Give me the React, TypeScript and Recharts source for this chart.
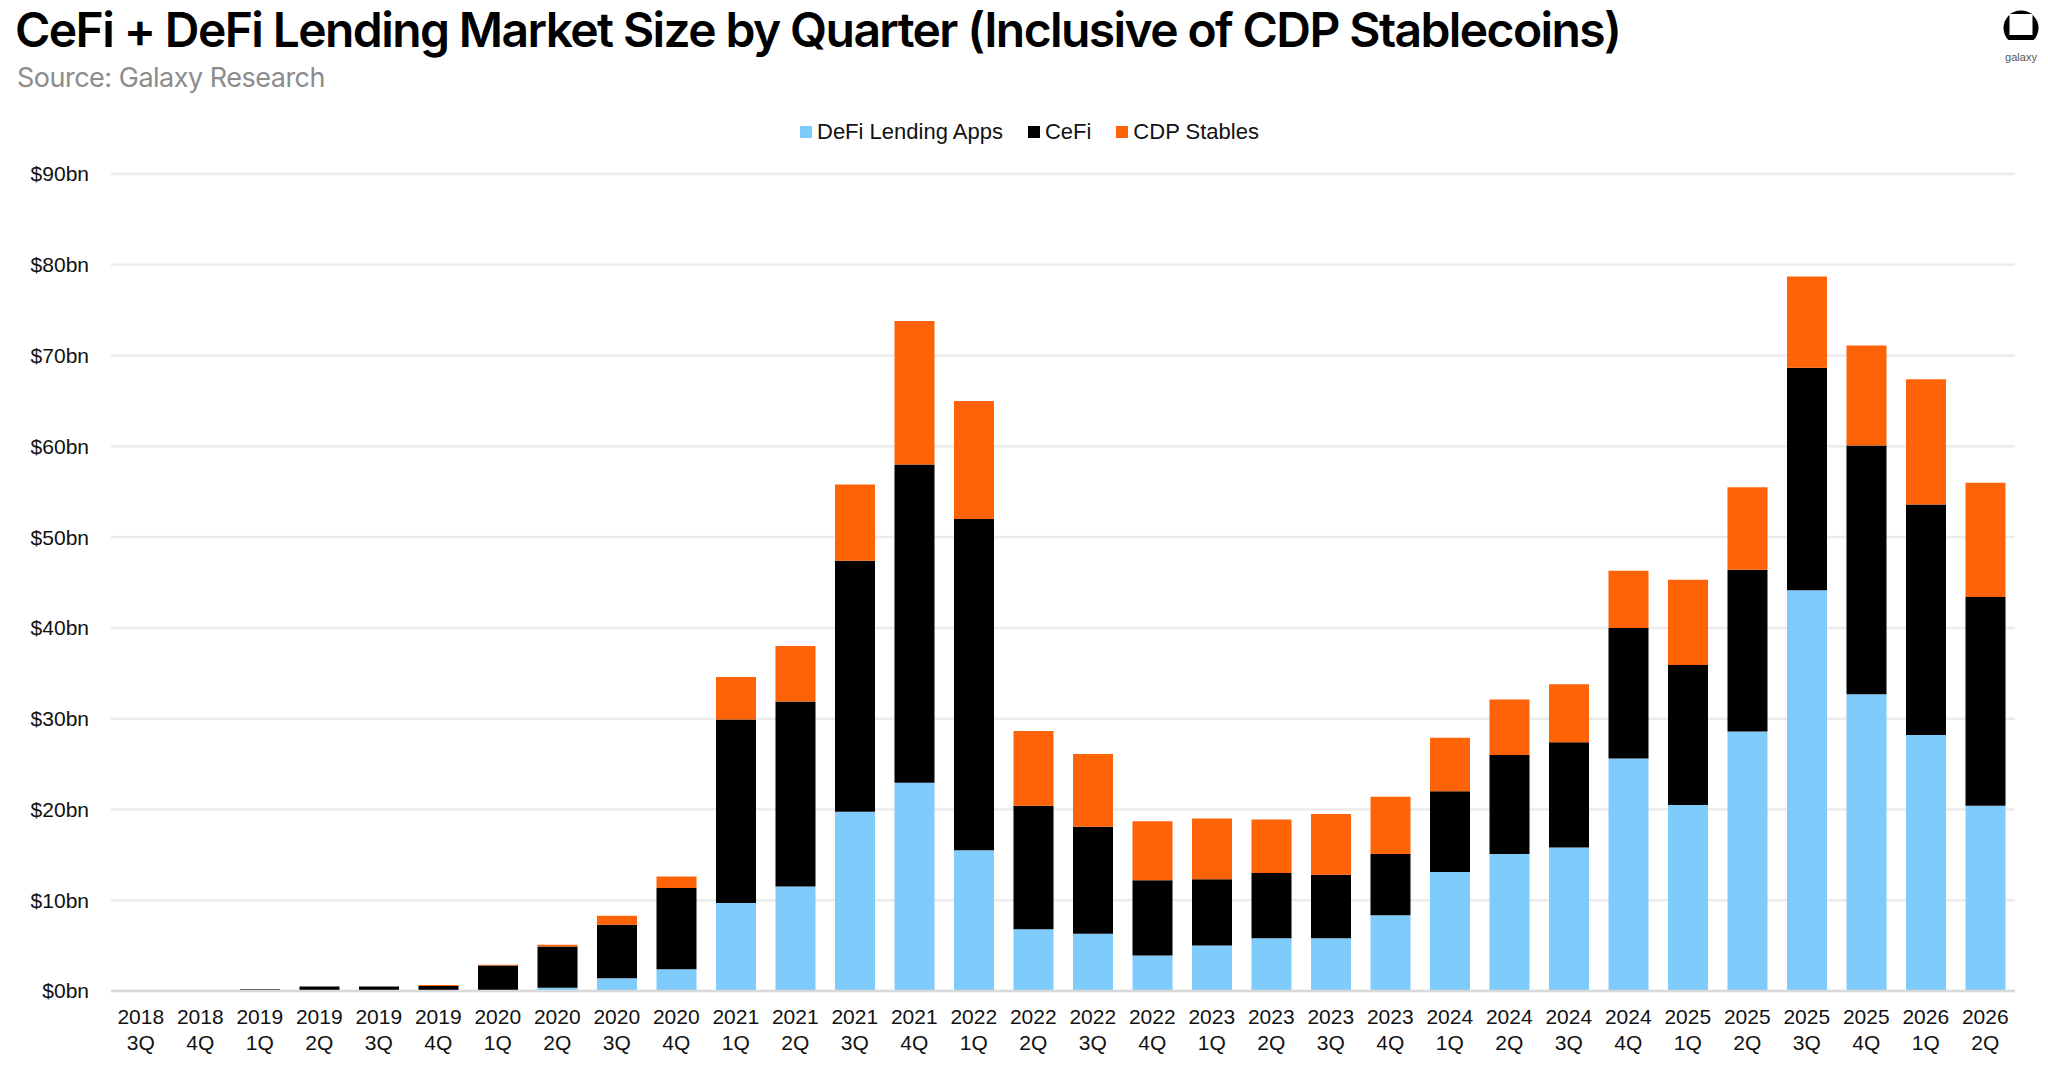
import React from "react";
import { BarChart, Bar, XAxis, YAxis, CartesianGrid, Legend } from "recharts";

const quarters = [
  "2018 3Q", "2018 4Q", "2019 1Q", "2019 2Q", "2019 3Q", "2019 4Q",
  "2020 1Q", "2020 2Q", "2020 3Q", "2020 4Q", "2021 1Q", "2021 2Q",
  "2021 3Q", "2021 4Q", "2022 1Q", "2022 2Q", "2022 3Q", "2022 4Q",
  "2023 1Q", "2023 2Q", "2023 3Q", "2023 4Q", "2024 1Q", "2024 2Q",
  "2024 3Q", "2024 4Q", "2025 1Q", "2025 2Q", "2025 3Q", "2025 4Q",
  "2026 1Q", "2026 2Q",
];

// $bn
const defiLending = [
  0, 0, 0, 0, 0, 0.05, 0.1, 0.35, 1.4, 2.4, 9.7, 11.5, 19.75, 22.95, 15.5, 6.8,
  6.3, 3.9, 5.0, 5.8, 5.8, 8.35, 13.1, 15.1, 15.8, 25.6, 20.5, 28.6, 44.15, 32.7,
  28.2, 20.4,
];
const cefi = [
  0, 0, 0.2, 0.5, 0.5, 0.5, 2.7, 4.55, 5.9, 8.95, 20.2, 20.4, 27.65, 35.05, 36.5,
  13.6, 11.8, 8.3, 7.3, 7.2, 7.0, 6.75, 8.9, 10.9, 11.6, 14.4, 15.4, 17.8, 24.5,
  27.4, 25.4, 23.0,
];
const cdpStables = [
  0, 0, 0, 0, 0, 0.1, 0.1, 0.2, 1.0, 1.25, 4.7, 6.1, 8.4, 15.8, 13.0, 8.25, 8.0,
  6.5, 6.7, 5.9, 6.7, 6.3, 5.9, 6.1, 6.4, 6.3, 9.4, 9.1, 10.05, 11.0, 13.8, 12.6,
];

const yTicks = [0, 10, 20, 30, 40, 50, 60, 70, 80, 90];
const legendOrder = ["DeFi Lending Apps", "CeFi", "CDP Stables"];

const BLUE = "#7fcbfc";
const BLACK = "#000000";
const ORANGE = "#ff6308";
const AXIS_FONT = "'Liberation Sans', Arial, sans-serif";
const TITLE_FONT = "Inter, 'Noto Sans', sans-serif";

const data = quarters.map((q, i) => ({
  quarter: q,
  defi: defiLending[i],
  cefi: cefi[i],
  cdp: cdpStables[i],
}));

function QuarterTick(props: any) {
  const { x, y, payload } = props;
  const [year, q] = String(payload.value).split(" ");
  return (
    <text
      x={x}
      y={y}
      textAnchor="middle"
      fontFamily={AXIS_FONT}
      fontSize={21}
      fill="#111"
    >
      <tspan x={x} dy={33}>{year}</tspan>
      <tspan x={x} dy={26}>{q}</tspan>
    </text>
  );
}

function LegendRow(props: any) {
  const items = [...(props.payload || [])].sort(
    (a: any, b: any) => legendOrder.indexOf(a.value) - legendOrder.indexOf(b.value)
  );
  return (
    <div
      style={{
        display: "flex",
        justifyContent: "flex-start",
        paddingLeft: 800,
        fontFamily: AXIS_FONT,
        fontSize: 22,
        lineHeight: "26px",
        color: "#111",
      }}
    >
      {items.map((it: any) => (
        <div
          key={it.value}
          style={{ display: "flex", alignItems: "center", marginRight: 25 }}
        >
          <span
            style={{
              width: 12,
              height: 12,
              background: it.color,
              display: "inline-block",
              marginRight: 5,
            }}
          />
          <span>{it.value}</span>
        </div>
      ))}
    </div>
  );
}

function GalaxyLogo() {
  return (
    <svg width={48} height={62} viewBox="0 0 48 62">
      <circle cx={24} cy={24} r={17.5} fill="#000" />
      <rect x={12.5} y={10} width={23} height={21} fill="#fff" />
      <rect x={0} y={36} width={48} height={10} fill="#fff" />
      <text
        x={24}
        y={57}
        textAnchor="middle"
        fontFamily={AXIS_FONT}
        fontSize={11}
        fill="#555"
      >
        galaxy
      </text>
    </svg>
  );
}

export default function App() {
  return (
    <div
      style={{
        position: "absolute",
        left: 0,
        top: 0,
        width: 2048,
        height: 1073,
        background: "#fff",
        overflow: "hidden",
      }}
    >
      <div
        style={{
          position: "absolute",
          left: 15,
          top: 2,
          fontFamily: TITLE_FONT,
          fontWeight: 600,
          fontSize: 48,
          lineHeight: "56px",
          letterSpacing: -1.6,
          color: "#000",
          whiteSpace: "nowrap",
        }}
      >
        CeFi + DeFi Lending Market Size by Quarter (Inclusive of CDP Stablecoins)
      </div>
      <div
        style={{
          position: "absolute",
          left: 17,
          top: 61,
          fontFamily: TITLE_FONT,
          fontSize: 27,
          lineHeight: "34px",
          letterSpacing: -0.5,
          color: "#8c8c8c",
          whiteSpace: "nowrap",
        }}
      >
        Source: Galaxy Research
      </div>
      <div style={{ position: "absolute", left: 1997, top: 4 }}>
        <GalaxyLogo />
      </div>

      <BarChart
        width={2048}
        height={1073}
        data={data}
        margin={{ top: 174, right: 33, bottom: 0, left: 0 }}
        barSize={40}
        style={{ position: "absolute", left: 0, top: 0 }}
      >
        <CartesianGrid vertical={false} stroke="#ececec" strokeWidth={2.5} />
        <XAxis
          dataKey="quarter"
          height={82}
          interval={0}
          tickLine={false}
          tickSize={0}
          tickMargin={0}
          axisLine={{ stroke: "#d9d9d9", strokeWidth: 2.5 }}
          tick={<QuarterTick />}
        />
        <YAxis
          width={111}
          domain={[0, 90]}
          ticks={yTicks}
          interval={0}
          axisLine={false}
          tickLine={false}
          tickSize={0}
          tickMargin={22}
          tickFormatter={(v: number) => `$${v}bn`}
          tick={{ fontFamily: AXIS_FONT, fontSize: 21, fill: "#111" }}
        />
        <Legend
          verticalAlign="top"
          content={<LegendRow />}
          wrapperStyle={{
            position: "absolute",
            top: 119,
            left: 0,
            width: 2048,
            height: 0,
            overflow: "visible",
          }}
        />
        <Bar dataKey="defi" name="DeFi Lending Apps" stackId="a" fill={BLUE} isAnimationActive={false} />
        <Bar dataKey="cefi" name="CeFi" stackId="a" fill={BLACK} isAnimationActive={false} />
        <Bar dataKey="cdp" name="CDP Stables" stackId="a" fill={ORANGE} isAnimationActive={false} />
      </BarChart>
    </div>
  );
}
